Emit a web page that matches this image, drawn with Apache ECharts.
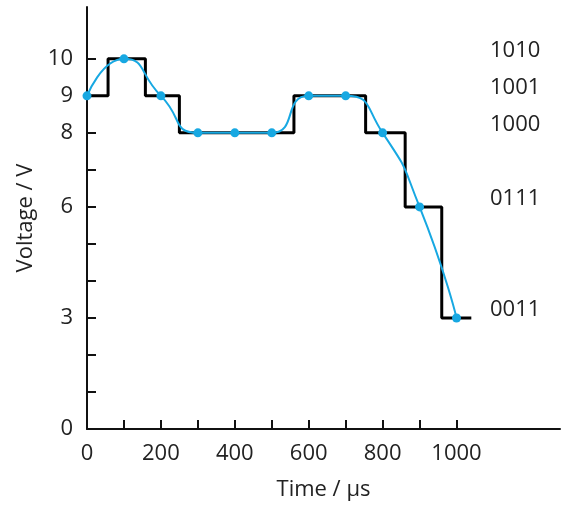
<!DOCTYPE html>
<html>
<head>
<meta charset="utf-8">
<script src="https://cdn.jsdelivr.net/npm/echarts@6/dist/echarts.min.js"></script>
<style>
  html, body { margin: 0; padding: 0; background: #fff; }
  #main { width: 562px; height: 506px; }
</style>
</head>
<body>
<div id="main"></div>
<script>
// sampled signal (blue points)
var sampleTimes = [0, 100, 200, 300, 400, 500, 600, 700, 800, 900, 1000];
var sampleVolts = [9, 10, 9, 8, 8, 8, 9, 9, 8, 6, 3];

// quantised output (black staircase), level holds until the next edge
var stepTimes = [0, 57, 158, 250, 560, 754, 861, 960, 1040];
var stepLevels = [9, 10, 9, 8, 9, 8, 6, 3, 3];

// axis labels
var voltTicks = [0, 1, 2, 3, 4, 5, 6, 7, 8, 9, 10];
var voltLabels = [0, 3, 6, 8, 9, 10];
var timeTicks = [0, 100, 200, 300, 400, 500, 600, 700, 800, 900, 1000];
var timeLabels = [0, 200, 400, 600, 800, 1000];
var codeLevels = [10, 9, 8, 6, 3];
var codeLabels = ['1010', '1001', '1000', '0111', '0011'];

var textColor = '#222';
var font = 'Open Sans';
var fs = 22;

var chart = echarts.init(document.getElementById('main'));

var option = {
    animation: false,
    grid: { left: 87, right: 2, top: 7, bottom: 77, outerBoundsMode: 'none' },
    xAxis: {
        type: 'value',
        min: 0,
        max: 1280,
        name: 'Time / µs',
        nameLocation: 'middle',
        nameGap: 50,
        nameTextStyle: { color: textColor, fontSize: fs, fontFamily: font },
        axisLine: { lineStyle: { color: '#111', width: 2 } },
        axisTick: { inside: true, length: 9, customValues: timeTicks, lineStyle: { color: '#111', width: 2 } },
        axisLabel: {
            customValues: timeLabels, color: textColor, fontSize: fs, fontFamily: font, margin: 14,
            formatter: function (v) { return String(v); }
        },
        splitLine: { show: false }
    },
    yAxis: [{
        type: 'value',
        min: 0,
        max: 11.4,
        name: 'Voltage / V',
        nameLocation: 'middle',
        nameGap: 50,
        nameTextStyle: { color: textColor, fontSize: fs, fontFamily: font },
        axisLine: { show: true, lineStyle: { color: '#111', width: 2 } },
        axisTick: { show: true, inside: true, length: 9, customValues: voltTicks, lineStyle: { color: '#111', width: 2 } },
        axisLabel: { customValues: voltLabels, color: textColor, fontSize: fs, fontFamily: font, margin: 14 },
        splitLine: { show: false }
    }, {
        type: 'value',
        position: 'right',
        offset: -70,
        min: 0,
        max: 11.4,
        axisLine: { show: false },
        axisTick: { show: false },
        axisLabel: {
            customValues: codeLevels,
            color: textColor, fontSize: fs, fontFamily: font, margin: 0,
            verticalAlign: 'bottom',
            lineHeight: 16,
            formatter: function (v) { return codeLabels[codeLevels.indexOf(v)]; }
        },
        splitLine: { show: false }
    }],
    series: [{
        type: 'line',
        step: 'end',
        data: stepTimes.map(function (t, i) { return [t, stepLevels[i]]; }),
        symbol: 'none',
        lineStyle: { color: '#000', width: 3 },
        z: 2
    }, {
        type: 'line',
        smooth: 0.6,
        data: sampleTimes.map(function (t, i) { return [t, sampleVolts[i]]; }),
        symbol: 'circle',
        symbolSize: 9,
        itemStyle: { color: '#17a8e2' },
        lineStyle: { color: '#17a8e2', width: 2 },
        z: 3
    }]
};

chart.setOption(option);
</script>
</body>
</html>
